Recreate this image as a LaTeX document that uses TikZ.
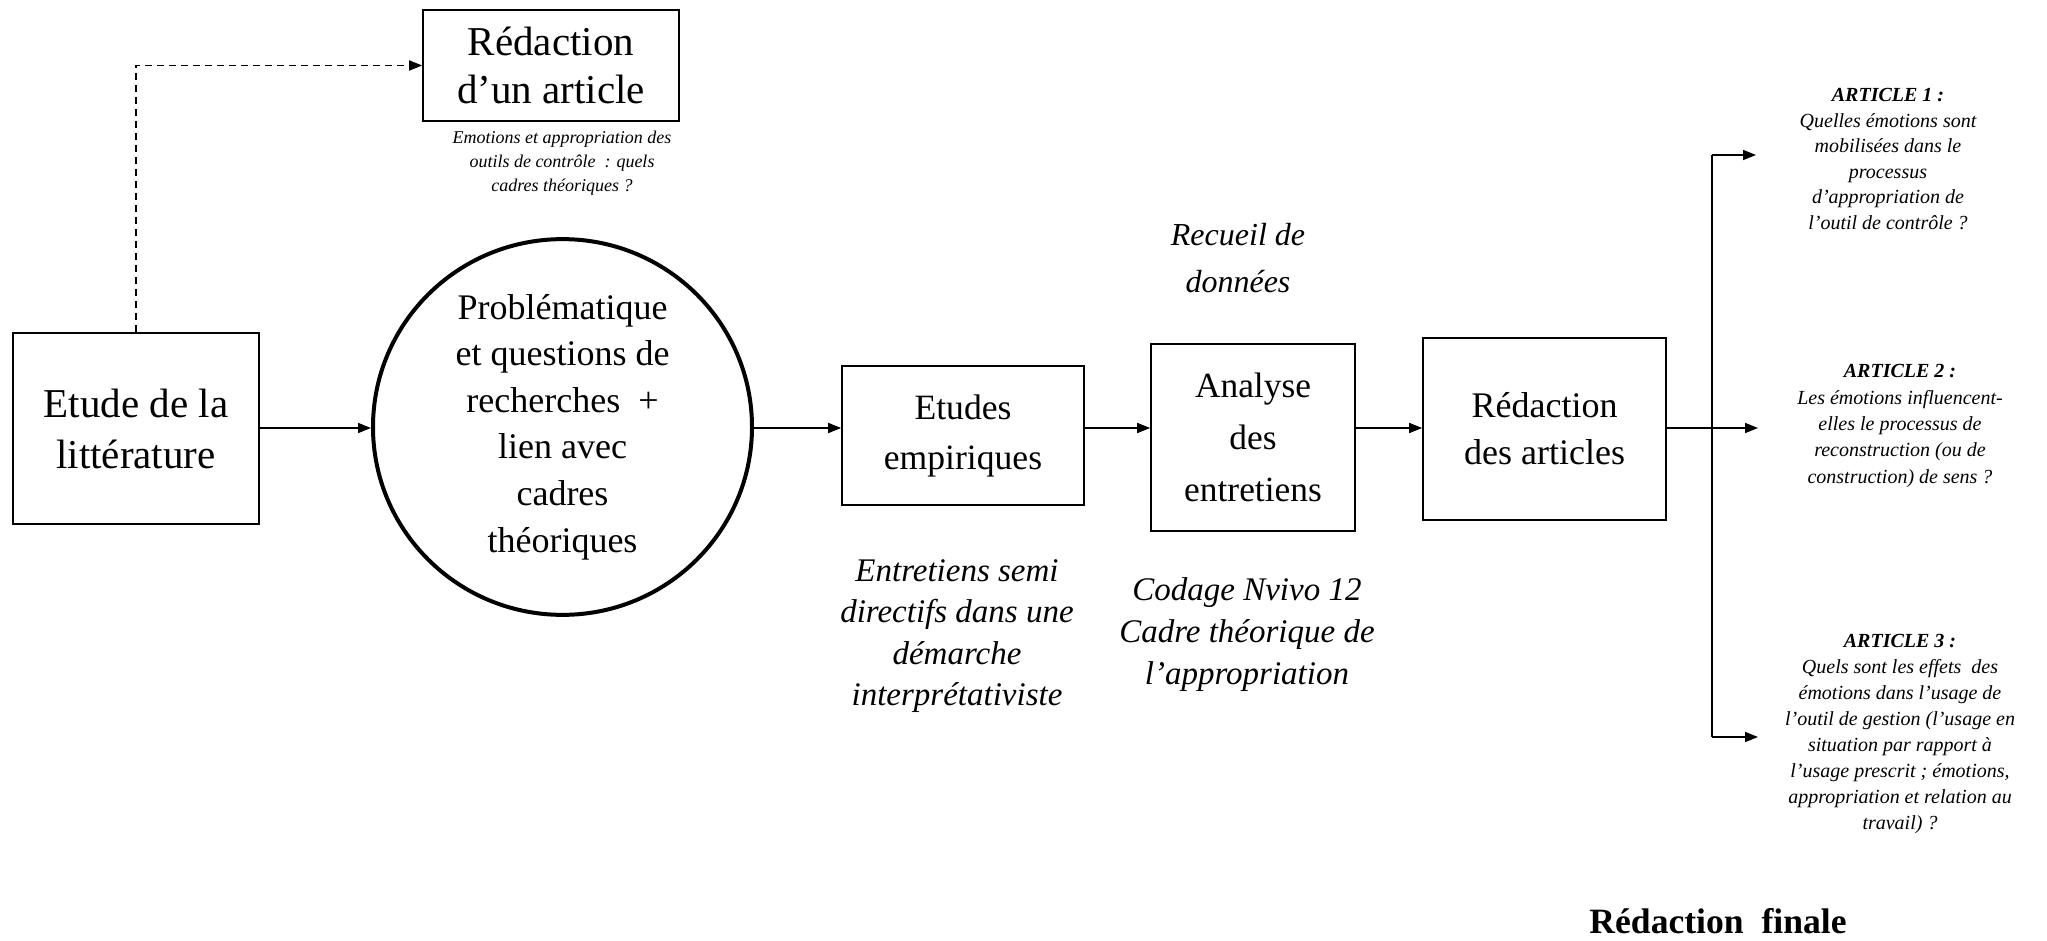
\documentclass[tikz,border=0pt]{standalone}
\usepackage{fontspec}
\setmainfont{Liberation Serif}
\usetikzlibrary{arrows.meta,shapes.geometric}
\newcommand{\fs}[2]{\fontsize{#1}{#2}\selectfont}
\tikzset{
  box/.style={draw, line width=0.8pt, rectangle, inner sep=0pt, align=center},
  arr/.style={line width=0.8pt, -{Triangle[length=6.5pt,width=5pt]}},
  plain/.style={line width=0.8pt},
  lbl/.style={inner sep=0pt, align=center},
}
\begin{document}
\begin{tikzpicture}[x=0.5pt,y=-0.5pt]
\useasboundingbox (0,0) rectangle (2047,941);
% boxes
\node[box, minimum width=128pt, minimum height=55.5pt, font=\fs{20.5pt}{24pt}] (art) at (551,65.5) {Rédaction\\d’un article};
\node[lbl, font=\fs{9pt}{12pt}\itshape] (artc) at (562,163) {Emotions et appropriation des\\outils de contrôle~ : quels\\cadres théoriques ?};
\node[box, minimum width=123pt, minimum height=95.5pt, font=\fs{20.5pt}{25.5pt}] (et) at (136,428.5) {Etude de la\\littérature};
\node[draw, ellipse, line width=2pt, minimum width=189.5pt, minimum height=183.5pt, inner sep=0pt, align=center, font=\fs{18pt}{23.3pt}] (pb) at (562.5,427) {Problématique\\et questions de\\recherches~ +\\lien avec\\cadres\\théoriques};
\node[box, minimum width=121pt, minimum height=69.5pt, font=\fs{17.8pt}{25pt}] (ee) at (963,435.5) {Etudes\\empiriques};
\node[box, minimum width=102pt, minimum height=93.5pt, font=\fs{17.7pt}{26pt}] (an) at (1253,437.5) {Analyse\\des\\entretiens};
\node[box, minimum width=121.5pt, minimum height=91pt, font=\fs{18pt}{23.5pt}] (ra) at (1544.5,429) {Rédaction\\des articles};
% italic labels
\node[lbl, font=\fs{16pt}{23.5pt}\itshape] (rd) at (1238,258) {Recueil de\\données};
\node[lbl, font=\fs{16.5pt}{20.7pt}\itshape] (en) at (957,636) {Entretiens semi\\directifs dans une\\démarche\\interprétativiste};
\node[lbl, font=\fs{16.5pt}{21pt}\itshape] (co) at (1247,635) {Codage Nvivo 12\\Cadre théorique de\\l’appropriation};
% articles
\node[lbl, font=\fs{10pt}{12.8pt}\itshape] (a1) at (1888,159) {\textbf{ARTICLE 1 :}\\Quelles émotions sont\\mobilisées dans le\\processus\\d’appropriation de\\l’outil de contrôle ?};
\node[lbl, font=\fs{10pt}{13.2pt}\itshape] (a2) at (1900,426) {\textbf{ARTICLE 2 :}\\Les émotions influencent-\\elles le processus de\\reconstruction (ou de\\construction) de sens ?};
\node[lbl, font=\fs{10pt}{13pt}\itshape] (a3) at (1900,734) {\textbf{ARTICLE 3 :}\\Quels sont les effets~ des\\émotions dans l'usage de\\l'outil de gestion (l'usage en\\situation par rapport à\\l'usage prescrit ; émotions,\\appropriation et relation au\\travail) ?};
\node[lbl, font=\fs{17.8pt}{20pt}\bfseries] (rf) at (1718,921) {Rédaction~ finale};
% connectors
\coordinate (lvl) at (0,428);
\coordinate (br) at (1712,428);
\coordinate (bt) at (1712,155);
\coordinate (bb) at (1712,737);
\coordinate (t1) at (1756,155);
\coordinate (t2) at (1758,428);
\coordinate (t3) at (1758,737);
\draw[arr, dashed, dash pattern=on 3.5pt off 2.5pt] (et.north) |- (art.west);
\draw[arr] (et.east |- lvl) -- (pb.west |- lvl);
\draw[arr] (pb.east |- lvl) -- (ee.west |- lvl);
\draw[arr] (ee.east |- lvl) -- (an.west |- lvl);
\draw[arr] (an.east |- lvl) -- (ra.west |- lvl);
\draw[plain] (ra.east |- lvl) -- (br);
\draw[plain] (bt) -- (bb);
\draw[arr] (bt) -- (t1);
\draw[arr] (br) -- (t2);
\draw[arr] (bb) -- (t3);
\end{tikzpicture}
\end{document}
